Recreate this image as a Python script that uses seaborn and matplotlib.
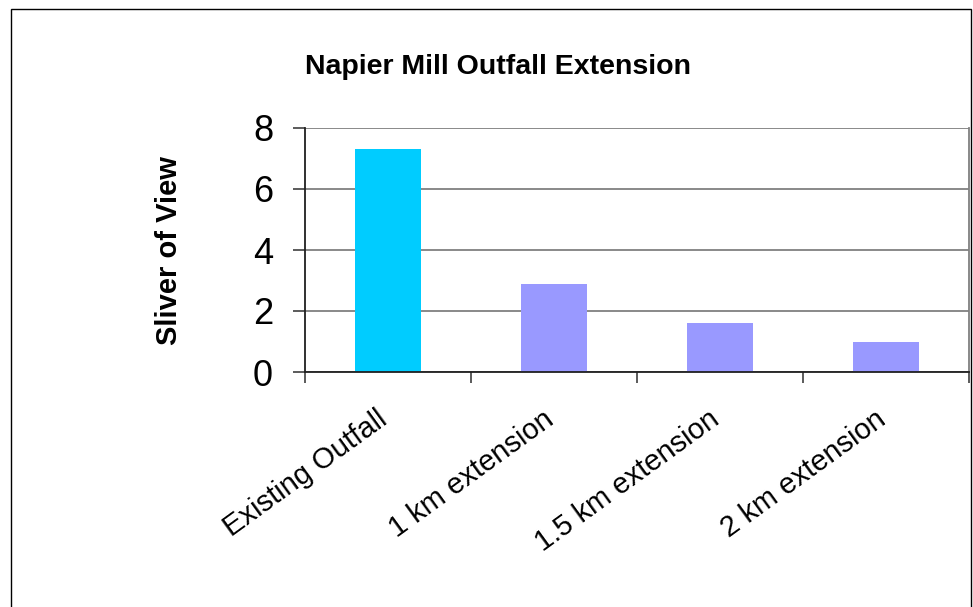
import matplotlib
matplotlib.use("Agg")
import matplotlib.pyplot as plt
from matplotlib.patches import Rectangle
import seaborn as sns
import pandas as pd
import numpy as np

categories = ["Existing Outfall", "1 km extension", "1.5 km extension", "2 km extension"]
sliver = [7.3, 2.9, 1.6, 1.0]
bar_colors = ["#00CCFF", "#9999FF", "#9999FF", "#9999FF"]
y_ticks = [0, 2, 4, 6, 8]

title = "Napier Mill Outfall Extension"
y_label = "Sliver of View"

sns.set_theme(style="white")
plt.rcParams["font.family"] = ["Liberation Sans", "DejaVu Sans"]
plt.rcParams["text.color"] = "black"
plt.rcParams["xtick.labelcolor"] = "black"
plt.rcParams["ytick.labelcolor"] = "black"

W, H = 973, 607
fig = plt.figure(figsize=(W / 100, H / 100), dpi=100)
fig.patch.set_facecolor("white")

# outer frame around the whole chart
fig.patches.append(Rectangle((11 / W, -0.01), (971 - 11) / W, 1 - 9 / H + 0.01,
                             transform=fig.transFigure, fill=False,
                             edgecolor="black", linewidth=1.0))

ax = fig.add_axes([305 / W, (H - 372) / H, (969 - 305) / W, (372 - 128) / H])

df = pd.DataFrame({"category": categories, "value": sliver})
sns.barplot(data=df, x="category", y="value", hue="category",
            palette=bar_colors, width=0.4, legend=False, ax=ax,
            saturation=1, linewidth=0)

ax.set_xlim(-0.5, len(categories) - 0.5)
ax.set_ylim(0, 8)
ax.set_yticks(y_ticks)
ax.set_yticklabels([str(v) for v in y_ticks], fontsize=26)
ax.yaxis.grid(True, color="#808080", linewidth=1.3)
ax.set_axisbelow(True)

# slanted category labels sit a little left of each bar centre;
# boundary marks go on minor ticks
label_offset = 0.07
ax.set_xticks(np.arange(len(categories)) - label_offset)
ax.set_xticklabels(categories, rotation=36, ha="right",
                   rotation_mode="anchor", fontsize=21)
ax.set_xticks([i - 0.5 for i in range(len(categories) + 1)], minor=True)
ax.tick_params(axis="x", which="major", length=0, pad=24)
ax.tick_params(axis="x", which="minor", length=8, width=1.2,
               color="#404040", direction="out", bottom=True)
ax.tick_params(axis="y", length=9, width=1.2, color="#404040",
               direction="out", left=True, pad=14)

ax.set_xlabel("")
ax.set_ylabel("")
for side in ["left", "bottom"]:
    ax.spines[side].set_color("#202020")
    ax.spines[side].set_linewidth(1.3)
ax.spines["top"].set_visible(False)
ax.spines["right"].set_color("#808080")
ax.spines["right"].set_linewidth(1.3)

fig.text(498 / W, 1 - 67 / H, title, ha="center", va="center",
         fontsize=20.5, fontweight="bold")
fig.text(169 / W, 1 - 251 / H, y_label, ha="center", va="center",
         rotation=90, fontsize=21, fontweight="bold")

fig.savefig("out.png", dpi=100)
